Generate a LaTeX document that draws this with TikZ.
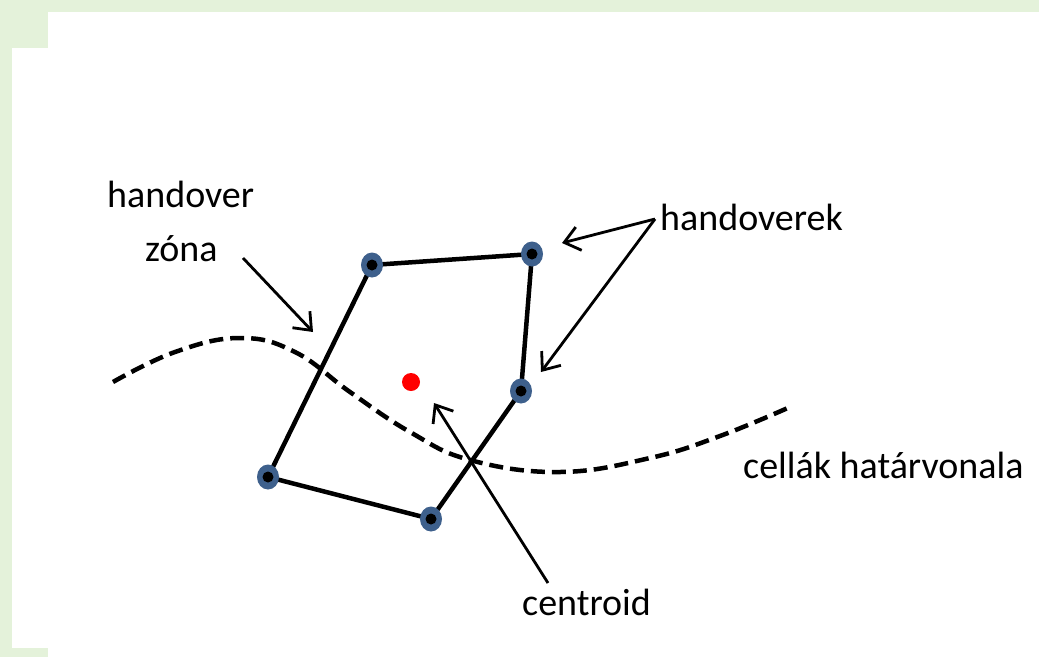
\documentclass[tikz,border=0pt]{standalone}
\usepackage{fontspec}
\setmainfont{Carlito}
\usetikzlibrary{arrows.meta,shapes.geometric}
\definecolor{pagegreen}{RGB}{228,242,218}
\definecolor{dotblue}{RGB}{62,96,140}
\pgfdeclarelayer{bg}
\pgfdeclarelayer{edges}
\pgfsetlayers{bg,edges,main}
\tikzset{
  hv/.style={ellipse, fill=dotblue, minimum width=22pt, minimum height=25pt, inner sep=0pt,
    path picture={\fill[black] (path picture bounding box.center) circle (5.5pt);}},
  cent/.style={circle, fill=red, minimum size=18pt, inner sep=0pt},
  edge/.style={line width=4.5pt, black},
  border/.style={line width=4.5pt, dash pattern=on 14pt off 7pt},
  pointer/.style={line width=2.8pt, -{Straight Barb[length=15pt,width=24pt,line width=2.8pt]}},
  lbl/.style={font=\fontsize{38pt}{46pt}\selectfont, inner sep=0pt, anchor=base west}
}
\begin{document}
\begin{tikzpicture}[x=1pt,y=-1pt]
\useasboundingbox (0,0) rectangle (1039,657);
\begin{pgfonlayer}{bg}
\fill[pagegreen] (0,0) rectangle (1039,657);
\fill[white] (48,12) rectangle (1039,657);
\fill[white] (12,48) rectangle (48,648);
\end{pgfonlayer}
% handover points
\node[hv] (p1) at (372,265) {};
\node[hv] (p2) at (532,254) {};
\node[hv] (p3) at (521,391) {};
\node[hv] (p4) at (431,519) {};
\node[hv] (p5) at (268,477) {};
\node[cent] (c) at (411,382) {};
\begin{pgfonlayer}{edges}
\draw[edge] (p1.center) -- (p2.center) -- (p3.center) -- (p4.center) -- (p5.center) -- cycle;
\draw[border] plot[smooth, tension=0.7] coordinates {(113,382) (175,352) (240,338) (295,352) (350,392) (410,432) (470,460) (560,472) (650,458) (720,436) (790,407)};
\end{pgfonlayer}
% labels
\node[lbl] (t1) at (107,207) {handover};
\node[lbl] (t2) at (145,261) {zóna};
\node[lbl] (t3) at (660,230) {handoverek};
\node[lbl] (t4) at (743,478) {cellák határvonala};
\node[lbl] (t5) at (522,615) {centroid};
% arrows
\coordinate (a1) at (243,258);
\coordinate (a1t) at (313,332);
\coordinate (a2) at (655,219);
\coordinate (a2t) at (562,243);
\coordinate (a3t) at (541,372);
\coordinate (a4) at (548,583);
\coordinate (a4t) at (434,403);
\draw[pointer] (a1) -- (a1t);
\draw[pointer] (a2) -- (a2t);
\draw[pointer] (a2) -- (a3t);
\draw[pointer] (a4) -- (a4t);
\end{tikzpicture}
\end{document}
